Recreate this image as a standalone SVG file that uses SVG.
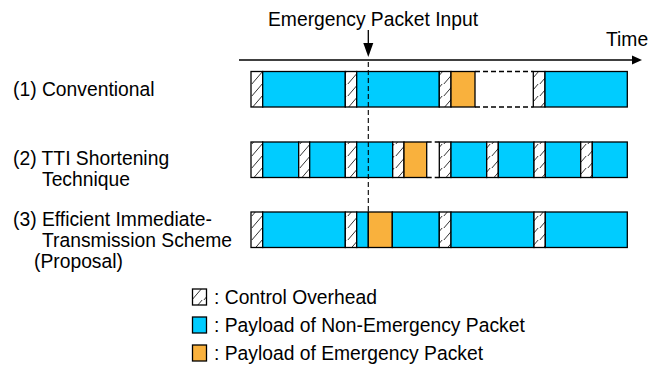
<svg xmlns="http://www.w3.org/2000/svg" width="661" height="365" viewBox="0 0 661 365">
<style>
text{font-family:"Liberation Sans",Arial,Helvetica,sans-serif;font-size:19.3px;fill:#000}
.c{fill:url(#hatch);stroke:#000;stroke-width:1.3}
.b{fill:#00CCFF;stroke:#000;stroke-width:1.3}
.o{fill:#F9B13D;stroke:#000;stroke-width:1.3}
.d{stroke:#000;stroke-width:1.3;stroke-dasharray:5 3;fill:none}
.ln{stroke:#000;stroke-width:1.3;fill:none}
</style>
<defs>
<pattern id="hatch" patternUnits="userSpaceOnUse" width="12" height="12">
<rect width="12" height="12" fill="#fff"/>
<path d="M-1,13 L11,-1 M11,13 L13,10.7" stroke="#333" stroke-width="1"/>
</pattern>
</defs>
<rect width="661" height="365" fill="#fff"/>

<g id="connectors">
<line class="ln" x1="239" y1="60" x2="634" y2="60"/>
<polygon points="632,55.5 642,60 632,64.5" fill="#000"/>
<line class="ln" x1="368.3" y1="30" x2="368.3" y2="45"/>
<polygon points="363.3,43 373.3,43 368.3,57" fill="#000"/>
</g>

<g id="labels">
<text x="268" y="26">Emergency Packet Input</text>
<text x="606" y="46">Time</text>
<text x="13" y="96">(1) Conventional</text>
<text x="13" y="165">(2) TTI Shortening</text>
<text x="42" y="185.5">Technique</text>
<text x="13" y="226">(3) Efficient Immediate-</text>
<text x="42" y="247">Transmission Scheme</text>
<text x="34" y="268">(Proposal)</text>
</g>

<g id="row1">
<rect class="c" x="251" y="71.5" width="11.7" height="35.5"/>
<rect class="b" x="262.7" y="71.5" width="82.6" height="35.5"/>
<rect class="c" x="345.3" y="71.5" width="11.4" height="35.5"/>
<rect class="b" x="356.7" y="71.5" width="82.6" height="35.5"/>
<rect class="c" x="439.3" y="71.5" width="11.7" height="35.5"/>
<rect class="o" x="451" y="71.5" width="24" height="35.5"/>
<line class="d" x1="475" y1="71.5" x2="533.3" y2="71.5"/>
<line class="d" x1="475" y1="107" x2="533.3" y2="107"/>
<rect class="c" x="533.3" y="71.5" width="11.7" height="35.5"/>
<rect class="b" x="545" y="71.5" width="82.3" height="35.5"/>
</g>

<g id="row2">
<rect class="c" x="251" y="142" width="11.7" height="35.5"/>
<rect class="b" x="262.7" y="142" width="36" height="35.5"/>
<rect class="c" x="298.7" y="142" width="11" height="35.5"/>
<rect class="b" x="309.7" y="142" width="35.6" height="35.5"/>
<rect class="c" x="345.3" y="142" width="11.4" height="35.5"/>
<rect class="b" x="356.7" y="142" width="36" height="35.5"/>
<rect class="c" x="392.7" y="142" width="11.3" height="35.5"/>
<rect class="o" x="404" y="142" width="22.7" height="35.5"/>
<line class="d" x1="426.7" y1="142" x2="439.3" y2="142"/>
<line class="d" x1="426.7" y1="177.5" x2="439.3" y2="177.5"/>
<rect class="c" x="439.3" y="142" width="11.7" height="35.5"/>
<rect class="b" x="451" y="142" width="35.7" height="35.5"/>
<rect class="c" x="486.7" y="142" width="11.6" height="35.5"/>
<rect class="b" x="498.3" y="142" width="35.7" height="35.5"/>
<rect class="c" x="534" y="142" width="11.3" height="35.5"/>
<rect class="b" x="545.3" y="142" width="35.4" height="35.5"/>
<rect class="c" x="580.7" y="142" width="11.6" height="35.5"/>
<rect class="b" x="592.3" y="142" width="35" height="35.5"/>
</g>

<g id="row3">
<rect class="c" x="251" y="212" width="11.7" height="35.5"/>
<rect class="b" x="262.7" y="212" width="82.6" height="35.5"/>
<rect class="c" x="345.3" y="212" width="11.4" height="35.5"/>
<rect class="b" x="356.7" y="212" width="11.6" height="35.5"/>
<rect class="o" x="368.3" y="212" width="24" height="35.5"/>
<rect class="b" x="392.3" y="212" width="47" height="35.5"/>
<rect class="c" x="439.3" y="212" width="11.7" height="35.5"/>
<rect class="b" x="451" y="212" width="83" height="35.5"/>
<rect class="c" x="534" y="212" width="11.3" height="35.5"/>
<rect class="b" x="545.3" y="212" width="82" height="35.5"/>
</g>

<g id="emergency-line">
<line x1="368.3" y1="62" x2="368.3" y2="212" stroke="#000" stroke-width="1.1" stroke-dasharray="5 3"/>
</g>

<g id="legend">
<rect class="c" x="192.5" y="289" width="14" height="16"/>
<text x="214" y="303.5">: Control Overhead</text>
<rect class="b" x="192.5" y="317" width="14" height="16"/>
<text x="214" y="331.5">: Payload of Non-Emergency Packet</text>
<rect class="o" x="192.5" y="345" width="14" height="16"/>
<text x="214" y="359.5">: Payload of Emergency Packet</text>
</g>
</svg>
